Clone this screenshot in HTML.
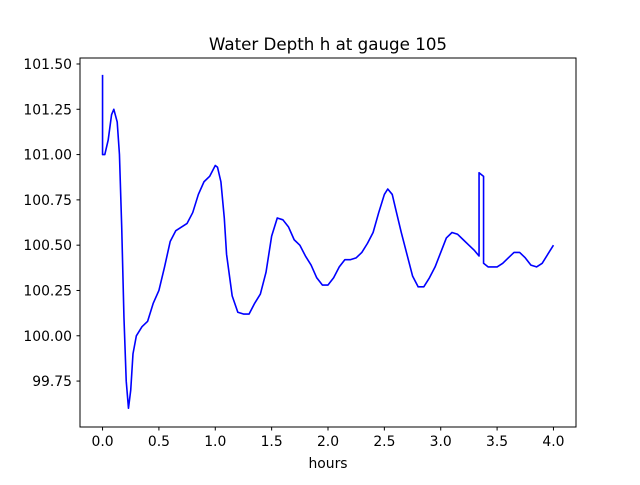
<!DOCTYPE html>
<html><head><meta charset="utf-8"><style>
body{margin:0;background:#fff;}
svg text{font-family:"DejaVu Sans","Liberation Sans",sans-serif;fill:#000;}
</style></head><body>
<svg width="640" height="480" viewBox="0 0 640 480" xmlns="http://www.w3.org/2000/svg">
<rect width="640" height="480" fill="#fff"/>
<text x="328" y="50" font-size="16.7" text-anchor="middle">Water Depth h at gauge 105</text>
<g id="ticks"></g>
<polyline id="series" fill="none" stroke="#0000ff" stroke-width="1.6" stroke-linejoin="round"/>
<rect x="80" y="58" width="496" height="369" fill="none" stroke="#000" stroke-width="1"/>
<text x="328" y="468" font-size="13.9" text-anchor="middle">hours</text>
</svg>
<script>
const hours=[0.0,0.0,0.02,0.05,0.08,0.1,0.13,0.15,0.17,0.19,0.21,0.23,0.25,0.27,0.3,0.35,0.4,0.45,0.5,0.55,0.6,0.65,0.7,0.75,0.8,0.85,0.9,0.95,1.0,1.02,1.05,1.08,1.1,1.15,1.2,1.25,1.3,1.35,1.4,1.45,1.5,1.55,1.6,1.65,1.7,1.75,1.8,1.85,1.9,1.95,2.0,2.05,2.1,2.15,2.2,2.25,2.3,2.35,2.4,2.45,2.5,2.53,2.57,2.6,2.65,2.7,2.75,2.8,2.85,2.9,2.95,3.0,3.05,3.1,3.15,3.2,3.25,3.3,3.34,3.34,3.38,3.38,3.42,3.5,3.55,3.6,3.65,3.7,3.75,3.8,3.85,3.9,3.95,4.0];
const depth=[101.44,101.0,101.0,101.08,101.22,101.25,101.18,101.0,100.6,100.1,99.75,99.6,99.7,99.9,100.0,100.05,100.08,100.18,100.25,100.38,100.52,100.58,100.6,100.62,100.68,100.78,100.85,100.88,100.94,100.93,100.85,100.65,100.45,100.22,100.13,100.12,100.12,100.18,100.23,100.35,100.55,100.65,100.64,100.6,100.53,100.5,100.44,100.39,100.32,100.28,100.28,100.32,100.38,100.42,100.42,100.43,100.46,100.51,100.57,100.68,100.78,100.81,100.78,100.7,100.57,100.45,100.33,100.27,100.27,100.32,100.38,100.46,100.54,100.57,100.56,100.53,100.5,100.47,100.44,100.9,100.88,100.4,100.38,100.38,100.4,100.43,100.46,100.46,100.43,100.39,100.38,100.4,100.45,100.5];
const xTicks=[0.0,0.5,1.0,1.5,2.0,2.5,3.0,3.5,4.0];
const xTickLabels=["0.0","0.5","1.0","1.5","2.0","2.5","3.0","3.5","4.0"];
const yTicks=[99.75,100.0,100.25,100.5,100.75,101.0,101.25,101.5];
const yTickLabels=["99.75","100.00","100.25","100.50","100.75","101.00","101.25","101.50"];
const X0=80,X1=576,Y0=427,Y1=58,xmin=-0.2,xmax=4.2,ymin=99.4965,ymax=101.533;
const sx=v=>X0+(v-xmin)/(xmax-xmin)*(X1-X0);
const sy=v=>Y0-(v-ymin)/(ymax-ymin)*(Y0-Y1);
const NS="http://www.w3.org/2000/svg";
const g=document.getElementById('ticks');
xTicks.forEach((t,i)=>{
  const l=document.createElementNS(NS,'line');
  l.setAttribute('x1',sx(t));l.setAttribute('x2',sx(t));l.setAttribute('y1',427);l.setAttribute('y2',430.5);l.setAttribute('stroke','#000');
  
  
  g.appendChild(l);
  const tx=document.createElementNS(NS,'text');
  tx.setAttribute('x',sx(t));tx.setAttribute('y',446);tx.setAttribute('font-size','13.9');tx.setAttribute('text-anchor','middle');
  tx.textContent=xTickLabels[i];
  
  
  g.appendChild(tx);
});
yTicks.forEach((t,i)=>{
  const l=document.createElementNS(NS,'line');
  l.setAttribute('x1',76.5);l.setAttribute('x2',80);l.setAttribute('y1',sy(t));l.setAttribute('y2',sy(t));l.setAttribute('stroke','#000');
  
  
  g.appendChild(l);
  const tx=document.createElementNS(NS,'text');
  tx.setAttribute('x',72);tx.setAttribute('y',sy(t)+5);tx.setAttribute('font-size','13.9');tx.setAttribute('text-anchor','end');
  tx.textContent=yTickLabels[i];
  
  
  g.appendChild(tx);
});
document.getElementById('series').setAttribute('points',hours.map((h,i)=>sx(h).toFixed(2)+','+sy(depth[i]).toFixed(2)).join(' '));
</script>
</body></html>
